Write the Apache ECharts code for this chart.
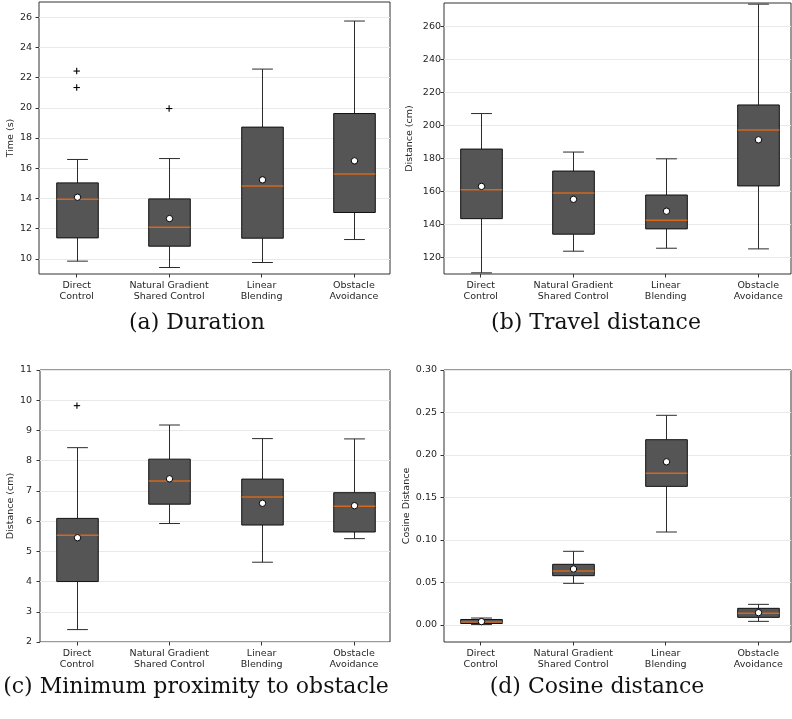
<!DOCTYPE html>
<html>
<head>
<meta charset="utf-8">
<script src="https://cdn.jsdelivr.net/npm/echarts@6/dist/echarts.min.js"></script>
<style>
  html, body { margin: 0; padding: 0; background: #fff; }
  #chart { width: 792px; height: 719px; }
</style>
</head>
<body>
<div id="chart"></div>
<script>
// Shared x-axis categories (box positions 1..4)
const categories = ['Direct\nControl', 'Natural Gradient\nShared Control', 'Linear\nBlending', 'Obstacle\nAvoidance'];

// Box statistics per condition: [lower whisker, Q1, median, Q3, upper whisker]
const durationBoxes = [
  [9.85, 11.39, 13.95, 15.03, 16.58],
  [9.43, 10.84, 12.10, 13.97, 16.64],
  [9.76, 11.37, 14.83, 18.72, 22.56],
  [11.28, 13.07, 15.61, 19.62, 25.74]
];
const durationMeans = [14.08, 12.67, 15.23, 16.49];
const durationOutliers = [[22.43, 21.34], [19.95], [], []];
const durationTicks = [10, 12, 14, 16, 18, 20, 22, 24, 26];

const travelBoxes = [
  [110.7, 143.5, 161.0, 185.6, 207.1],
  [123.8, 134.1, 159.0, 172.3, 183.8],
  [125.6, 137.3, 142.5, 157.8, 179.7],
  [125.2, 163.3, 197.2, 212.3, 273.3]
];
const travelMeans = [163.0, 155.2, 148.0, 191.2];
const travelOutliers = [[], [], [], []];
const travelTicks = [120, 140, 160, 180, 200, 220, 240, 260];

const proximityBoxes = [
  [2.41, 4.00, 5.53, 6.09, 8.43],
  [5.92, 6.56, 7.33, 8.05, 9.18],
  [4.64, 5.87, 6.80, 7.39, 8.73],
  [5.42, 5.64, 6.49, 6.94, 8.72]
];
const proximityMeans = [5.45, 7.40, 6.59, 6.51];
const proximityOutliers = [[9.82], [], [], []];
const proximityTicks = [2, 3, 4, 5, 6, 7, 8, 9, 10, 11];

const cosineBoxes = [
  [0.0005, 0.0018, 0.0035, 0.0065, 0.0082],
  [0.0490, 0.0580, 0.0635, 0.0714, 0.0867],
  [0.1094, 0.1631, 0.1784, 0.2180, 0.2467],
  [0.0043, 0.0090, 0.0137, 0.0196, 0.0243]
];
const cosineMeans = [0.0040, 0.0659, 0.1920, 0.0145];
const cosineOutliers = [[], [], [], []];
const cosineTicks = [0.00, 0.05, 0.10, 0.15, 0.20, 0.25, 0.30];

// Panel layout and axis ranges
const panels = [
  { boxes: durationBoxes, means: durationMeans, outliers: durationOutliers, ticks: durationTicks,
    yName: 'Time (s)', yMin: 9, yMax: 27, fmt: v => String(v),
    grid: { left: 39, top: 2, width: 351, height: 272 }, xMin: 0.592, xMax: 4.39,
    nameGap: 21, labelMargin: 7, caption: '(a) Duration', capX: 197, capY: 323 },
  { boxes: travelBoxes, means: travelMeans, outliers: travelOutliers, ticks: travelTicks,
    yName: 'Distance (cm)', yMin: 110, yMax: 274, fmt: v => String(v),
    grid: { left: 444, top: 3, width: 347, height: 271 }, xMin: 0.603, xMax: 4.354,
    nameGap: 29, labelMargin: 3, caption: '(b) Travel distance', capX: 596, capY: 323 },
  { boxes: proximityBoxes, means: proximityMeans, outliers: proximityOutliers, ticks: proximityTicks,
    yName: 'Distance (cm)', yMin: 2, yMax: 11, fmt: v => String(v),
    grid: { left: 40, top: 370, width: 350, height: 272 }, xMin: 0.6, xMax: 4.39,
    nameGap: 22, labelMargin: 8, caption: '(c) Minimum proximity to obstacle', capX: 196, capY: 687 },
  { boxes: cosineBoxes, means: cosineMeans, outliers: cosineOutliers, ticks: cosineTicks,
    yName: 'Cosine Distance', yMin: -0.02, yMax: 0.30, fmt: v => v.toFixed(2),
    grid: { left: 444, top: 370, width: 347, height: 272 }, xMin: 0.603, xMax: 4.354,
    nameGap: 31, labelMargin: 7, caption: '(d) Cosine distance', capX: 597, capY: 687 }
];

const BOX_WIDTH = 0.45;
const TICK_POS = [1, 2, 3, 4];
const TEXT_COLOR = '#262626';
const AXIS_FONT = 'DejaVu Sans';

function renderBox(params, api) {
  const x = api.value(0);
  const lo = api.coord([x, api.value(1)]);
  const q1 = api.coord([x, api.value(2)]);
  const md = api.coord([x, api.value(3)]);
  const q3 = api.coord([x, api.value(4)]);
  const hi = api.coord([x, api.value(5)]);
  const mn = api.coord([x, api.value(6)]);
  const bw = api.size([BOX_WIDTH, 0])[0];
  const cx = Math.round(lo[0]) + 0.5;
  const capHalf = bw / 4;
  const ws = { stroke: '#2b2b2b', lineWidth: 1 };
  return {
    type: 'group',
    children: [
      { type: 'line', shape: { x1: cx, y1: q3[1], x2: cx, y2: hi[1] }, style: ws },
      { type: 'line', shape: { x1: cx, y1: lo[1], x2: cx, y2: q1[1] }, style: ws },
      { type: 'line', shape: { x1: cx - capHalf, y1: hi[1], x2: cx + capHalf, y2: hi[1] }, style: ws },
      { type: 'line', shape: { x1: cx - capHalf, y1: lo[1], x2: cx + capHalf, y2: lo[1] }, style: ws },
      { type: 'rect', shape: { x: cx - bw / 2, y: q3[1], width: bw, height: q1[1] - q3[1] },
        style: { fill: '#555555', stroke: '#111111', lineWidth: 1 } },
      { type: 'line', shape: { x1: cx - bw / 2, y1: md[1], x2: cx + bw / 2, y2: md[1] },
        style: { stroke: '#d2691e', lineWidth: 1.5 } },
      { type: 'circle', shape: { cx: cx, cy: mn[1], r: 3.2 },
        style: { fill: '#ffffff', stroke: '#000000', lineWidth: 1 } }
    ]
  };
}

function renderOutlier(params, api) {
  const p = api.coord([api.value(0), api.value(1)]);
  const s = 3.2;
  const st = { stroke: '#000000', lineWidth: 1.1 };
  return {
    type: 'group',
    children: [
      { type: 'line', shape: { x1: p[0] - s, y1: p[1], x2: p[0] + s, y2: p[1] }, style: st },
      { type: 'line', shape: { x1: p[0], y1: p[1] - s, x2: p[0], y2: p[1] + s }, style: st }
    ]
  };
}

const grids = [], xAxes = [], yAxes = [], series = [], graphics = [];

panels.forEach((p, i) => {
  grids.push(Object.assign({ show: true, borderColor: '#333333', borderWidth: 1, backgroundColor: 'transparent' }, p.grid));

  xAxes.push({
    gridIndex: i, type: 'value', min: p.xMin, max: p.xMax,
    axisLine: { show: false, onZero: false },
    splitLine: { show: false },
    axisTick: { show: true, customValues: TICK_POS, length: 3.5, lineStyle: { color: '#333333' } },
    axisLabel: {
      customValues: TICK_POS, formatter: v => categories[Math.round(v) - 1],
      fontFamily: AXIS_FONT, fontSize: 9.5, lineHeight: 11, color: TEXT_COLOR, margin: 6
    }
  });

  yAxes.push({
    gridIndex: i, type: 'value', min: p.yMin, max: p.yMax,
    name: p.yName, nameLocation: 'middle', nameGap: p.nameGap,
    nameTextStyle: { fontFamily: AXIS_FONT, fontSize: 9.5, color: TEXT_COLOR },
    axisLine: { show: false, onZero: false },
    axisTick: { show: true, customValues: p.ticks, length: 3.5, lineStyle: { color: '#333333' } },
    axisLabel: {
      customValues: p.ticks, formatter: p.fmt,
      fontFamily: AXIS_FONT, fontSize: 9.5, color: TEXT_COLOR, margin: p.labelMargin
    },
    splitLine: { show: true, lineStyle: { color: '#e9e9e9', width: 1 } }
  });

  const boxData = p.boxes.map((b, k) => [k + 1].concat(b, [p.means[k]]));
  series.push({
    type: 'custom', xAxisIndex: i, yAxisIndex: i,
    renderItem: renderBox, data: boxData,
    encode: { x: 0, y: [1, 2, 3, 4, 5, 6] }, silent: true, z: 3
  });

  const outData = [];
  p.outliers.forEach((list, k) => list.forEach(v => outData.push([k + 1, v])));
  series.push({
    type: 'custom', xAxisIndex: i, yAxisIndex: i,
    renderItem: renderOutlier, data: outData,
    encode: { x: 0, y: 1 }, silent: true, z: 4
  });

  graphics.push({
    type: 'text', x: p.capX, y: p.capY,
    style: { text: p.caption, font: '22px "DejaVu Serif"', fill: '#111111', align: 'center', verticalAlign: 'middle' }
  });
});

const chart = echarts.init(document.getElementById('chart'), null, { renderer: 'canvas' });
chart.setOption({
  animation: false,
  backgroundColor: '#ffffff',
  grid: grids,
  xAxis: xAxes,
  yAxis: yAxes,
  series: series,
  graphic: graphics
});
</script>
</body>
</html>
